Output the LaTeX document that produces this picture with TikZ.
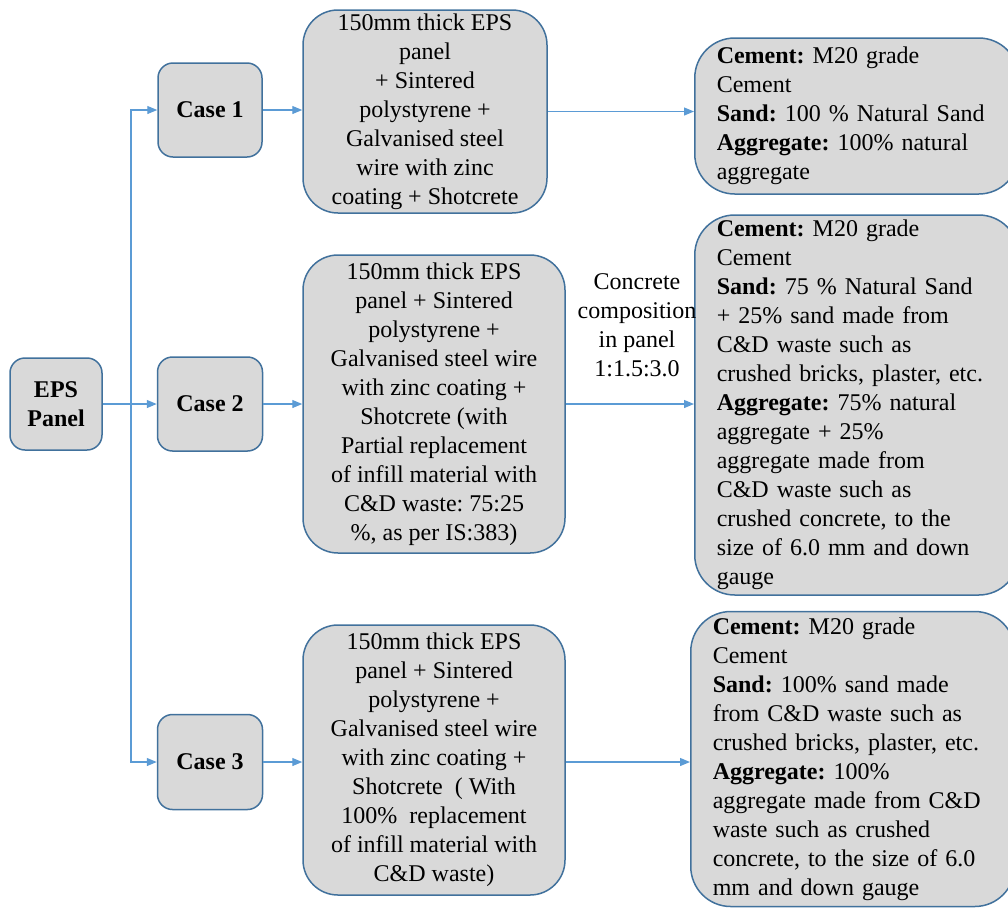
\documentclass[tikz,border=0pt]{standalone}
\usepackage{fontspec}
\setmainfont{Liberation Serif}
\usepackage{xcolor}
\usepackage{tikz}
\usetikzlibrary{arrows.meta, positioning, calc}
\frenchspacing
\definecolor{boxfill}{HTML}{D9D9D9}
\definecolor{boxline}{HTML}{41719C}
\definecolor{linkcol}{HTML}{5B9BD5}
\definecolor{ink}{HTML}{000000}
\tikzset{
  box/.style   ={draw=boxline, line width=1.5pt, fill=boxfill, text=ink,
                 font=\fontsize{24}{29}\selectfont, inner sep=0pt},
  boxc/.style  ={box, rounded corners=15pt, font=\fontsize{24}{29}\selectfont\bfseries,
                 align=center},
  boxm/.style  ={box, rounded corners=35pt, align=center},
  boxr/.style  ={box, rounded corners=40pt, align=left, anchor=west,
                 inner xsep=22pt, text width=280pt},
  link/.style  ={-{Triangle[length=10pt,width=8pt]}, line width=1.2pt, draw=linkcol},
  label/.style ={font=\fontsize{24}{29}\selectfont, align=center, text=ink}
}

\begin{document}
\begin{tikzpicture}[x=1pt, y=-1pt]
  \useasboundingbox (0,0) rectangle (1008,908);
  % left column
  \node[boxc, minimum width=92pt, minimum height=92pt] (eps) at (56,404) {EPS\\Panel};
  \node[boxc, minimum width=104pt, minimum height=94pt] (case1) at (210,110) {Case 1};
  \node[boxc, minimum width=105pt, minimum height=94pt] (case2) at (210,404) {Case 2};
  \node[boxc, minimum width=105pt, minimum height=95pt] (case3) at (210,762) {Case 3};
  % panel make-up
  \node[boxm, minimum width=244pt, minimum height=203pt] (mat1) at (425,111.5)
    {150mm thick EPS\\panel\\+ Sintered\\polystyrene +\\Galvanised steel\\wire with zinc\\coating + Shotcrete};
  \node[boxm, minimum width=262pt, minimum height=298pt] (mat2) at (434,404)
    {150mm thick EPS\\panel + Sintered\\polystyrene +\\Galvanised steel wire\\with zinc coating +\\Shotcrete (with\\Partial replacement\\of infill material with\\C\&D waste: 75:25\\\%, as per IS:383)};
  \node[boxm, minimum width=262pt, minimum height=270pt] (mat3) at (434,760)
    {150mm thick EPS\\panel + Sintered\\polystyrene +\\Galvanised steel wire\\with zinc coating +\\Shotcrete~~( With\\100\%~~replacement\\of infill material with\\C\&D waste)};
  % concrete mix
  \node[boxr, minimum height=156pt] (mix1) at (694,116)
    {\textbf{Cement:} M20 grade\\Cement\\\textbf{Sand:} 100 \% Natural Sand\\\textbf{Aggregate:} 100\% natural\\aggregate};
  \node[boxr, minimum height=380pt] (mix2) at (694,405)
    {\textbf{Cement:} M20 grade\\Cement\\\textbf{Sand:} 75 \% Natural Sand\\+ 25\% sand made from\\C\&D waste such as\\crushed bricks, plaster, etc.\\\textbf{Aggregate:} 75\% natural\\aggregate + 25\%\\aggregate made from\\C\&D waste such as\\crushed concrete, to the\\size of 6.0 mm and down\\gauge};
  \node[boxr, minimum height=295pt] (mix3) at (690,759)
    {\textbf{Cement:} M20 grade\\Cement\\\textbf{Sand:} 100\% sand made\\from C\&D waste such as\\crushed bricks, plaster, etc.\\\textbf{Aggregate:} 100\%\\aggregate made from C\&D\\waste such as crushed\\concrete, to the size of 6.0\\mm and down gauge};
  \node[label] (ratio) at (637,325) {Concrete\\composition\\in panel\\1:1.5:3.0};
  % connectors
  \coordinate (split) at (131,404);
  \draw[link] (eps.east) -- (case2.west);
  \draw[link] (split) |- (case1.west);
  \draw[link] (split) |- (case3.west);
  \draw[link] (case1.east) -- (case1.east -| mat1.west);
  \draw[link] (case2.east) -- (case2.east -| mat2.west);
  \draw[link] (case3.east) -- (case3.east -| mat3.west);
  \draw[link] (mat1.east) -- (mat1.east -| mix1.west);
  \draw[link] (mat2.east) -- (mat2.east -| mix2.west);
  \draw[link] (mat3.east |- case3.east) -- (case3.east -| mix3.west);
\end{tikzpicture}
\end{document}
